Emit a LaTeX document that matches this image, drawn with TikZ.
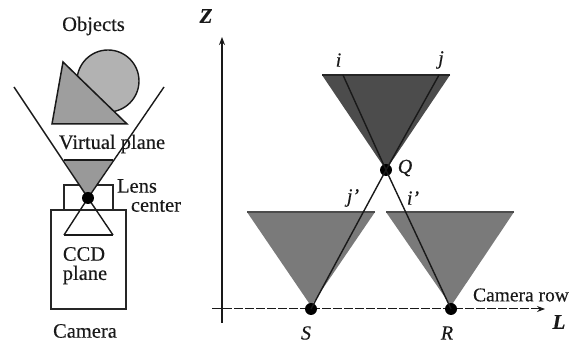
\documentclass[tikz,border=0pt]{standalone}
\usepackage{fontspec}
\setmainfont[RawFeature={embolden=0.35}]{Liberation Serif}
\usetikzlibrary{arrows.meta}
\tikzset{
 lbl/.style={inner sep=0pt,font=\fontsize{20.5}{20.5}\selectfont,text=black!90},
 mlab/.style={inner sep=0pt,font=\fontsize{20}{20}\selectfont\itshape,text=black!90},
 blab/.style={inner sep=0pt,font=\fontsize{21}{21}\selectfont\itshape\bfseries,text=black!90},
 ln/.style={draw=black!90,line width=1.4pt},
 thin ln/.style={draw=black!85,line width=1.1pt},
 dot/.style={circle,fill=black,inner sep=0pt,minimum size=12pt},
 conedark/.style={fill=black!70},
 conelight/.style={fill=black!52},
 arr/.style={-{Stealth[length=8pt,width=6pt]}}
}
\begin{document}
\begin{tikzpicture}[x=1pt,y=-1pt]
\useasboundingbox (0,0) rectangle (579,344);
% objects
\node[ln,circle,fill=black!30,minimum size=62pt,inner sep=0pt] (ball) at (108,81) {};
\draw[ln,line width=1.5pt,fill=black!38,line join=miter] (63,62) -- (52,124) -- (127,124) -- cycle;
% camera cone
\coordinate (lens) at (88,198);
\coordinate (vl) at (14,87);
\coordinate (vr) at (164,87);
\coordinate (pl) at (64,160);
\coordinate (pr) at (113,160);
% camera
\node[thin ln,draw,minimum width=49pt,minimum height=25pt,inner sep=0pt] (lensbox) at (88.5,197.5) {};
\node[thin ln,draw,minimum width=75pt,minimum height=99pt,inner sep=0pt] (body) at (88.5,259.5) {};
\fill[black!40] (pl) -- (pr) -- (lens) -- cycle;
\draw[ln] (pl) -- (pr);
\draw[ln] (vl) -- (lens) -- (vr);
\coordinate (ccdl) at (64,235);
\coordinate (ccdr) at (113,235);
\draw[ln] (lens) -- (ccdl);
\draw[ln] (lens) -- (ccdr);
\draw[ln,line width=2.2pt] (ccdl) -- (ccdr);
\node[dot] (lc) at (lens) {};
\node[lbl] (t1) at (93.5,26) {Objects};
\node[lbl] (t2) at (112,144) {Virtual plane};
\node[lbl] (t3) at (137,186) {Lens};
\node[lbl] (t4) at (156,206) {center};
\node[lbl] (t5) at (84,254) {CCD};
\node[lbl] (t6) at (85,275) {plane};
\node[lbl] (t7) at (85,331) {Camera};
% cones on right
\coordinate (Qc) at (386,170);
\coordinate (Sc) at (311,309);
\coordinate (Rc) at (451,309);
\fill[conedark] (322,75) -- (450,75) -- (Qc) -- cycle;
\fill[conelight] (247,212) -- (375,212) -- (311,306) -- cycle;
\fill[conelight] (386,212) -- (514,212) -- (451,306) -- cycle;
\draw[thin ln] (322,75) -- (450,75);
\draw[thin ln,draw=black!70] (247,212) -- (375,212);
\draw[thin ln,draw=black!70] (386,212) -- (514,212);
% axes
\coordinate (zb) at (222,323);
\coordinate (zt) at (222,37);
\coordinate (lb) at (212,309);
\coordinate (lt) at (545,309);
\draw[ln,arr] (zb) -- (zt);
\draw[ln,line width=1pt,dashed,dash pattern=on 9pt off 2pt,arr] (lb) -- (lt);
% rays
\coordinate (ic) at (343,75);
\coordinate (jc) at (439,75);
\node[dot] (Q) at (Qc) {};
\node[dot] (S) at (Sc) {};
\node[dot] (R) at (Rc) {};
\draw[ln] (ic) -- (Q.center);
\draw[ln] (jc) -- (Q.center);
\draw[ln] (Q.center) -- (S.center);
\draw[ln] (Q.center) -- (R.center);
\node[blab] (Z) at (206,16) {Z};
\node[blab] (L) at (559,322) {L};
\node[mlab] (i) at (338.5,60) {i};
\node[mlab] (j) at (441,60) {j};
\node[mlab] (Ql) at (405,168) {Q};
\node[mlab] (jp) at (353,198) {j’};
\node[mlab] (ip) at (413,198) {i’};
\node[mlab] (Sl) at (306,333) {S};
\node[mlab] (Rl) at (447,333) {R};
\node[lbl,font=\fontsize{19.5}{19.5}\selectfont] (cr) at (521,295) {Camera row};
\end{tikzpicture}
\end{document}
